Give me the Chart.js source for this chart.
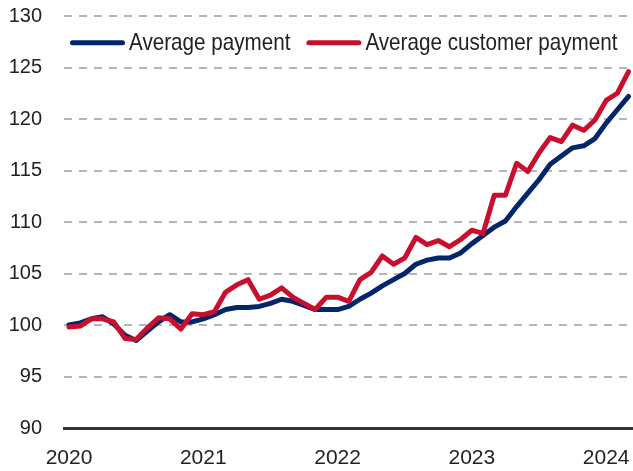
<!DOCTYPE html>
<html>
<head>
<meta charset="utf-8">
<script src="https://cdn.jsdelivr.net/npm/chart.js@4/dist/chart.umd.min.js"></script>
<style>
  html, body { margin: 0; padding: 0; background: #ffffff; }
  #wrap { width: 633px; height: 471px; position: relative; }
</style>
</head>
<body>
<div id="wrap"><canvas id="c" width="633" height="471"></canvas></div>
<script>
// Monthly, Jan 2020 – Mar 2024 (index 0 = Jan 2020)
const yearLabels = ["2020", "2021", "2022", "2023", "2024"];
const yearTickIndex = [0, 12, 24, 36, 48];
const yTicks = [90, 95, 100, 105, 110, 115, 120, 125, 130];

const seriesNames = ["Average payment", "Average customer payment"];

const averagePayment = [
  100.0, 100.2, 100.6, 100.8, 100.1, 99.0, 98.5, 99.4, 100.3, 101.0, 100.3, 100.3,
  100.6, 101.0, 101.5, 101.7, 101.7, 101.8, 102.1, 102.5, 102.3, 101.9, 101.5, 101.5,
  101.5, 101.8, 102.5, 103.1, 103.8, 104.4, 105.0, 105.9, 106.3, 106.5, 106.5, 107.0,
  107.9, 108.7, 109.5, 110.1, 111.5, 112.8, 114.1, 115.6, 116.4, 117.2, 117.4, 118.1,
  119.6, 120.9, 122.2
];

const averageCustomerPayment = [
  99.8, 99.9, 100.6, 100.6, 100.3, 98.7, 98.6, 99.7, 100.7, 100.6, 99.6, 101.1,
  101.0, 101.3, 103.2, 103.9, 104.4, 102.5, 102.9, 103.6, 102.7, 102.1, 101.5, 102.7,
  102.7, 102.3, 104.4, 105.1, 106.7, 105.9, 106.5, 108.5, 107.8, 108.2, 107.6, 108.3,
  109.2, 108.9, 112.6, 112.6, 115.7, 114.9, 116.7, 118.2, 117.8, 119.4, 118.9, 119.9,
  121.8, 122.5, 124.6
];

const colors = { blue: "#03266b", red: "#c8102e" };

const toPoints = arr => arr.map((v, i) => ({ x: i, y: v }));

const tickFamily = "'Liberation Sans', Arial, sans-serif";

// Custom in-plot legend (condensed text drawn with a horizontal squeeze)
const inlineLegend = {
  id: "inlineLegend",
  afterDraw(chart) {
    const ctx = chart.ctx;
    const area = chart.chartArea;
    const squeeze = 0.86;
    const lineLen = 50, textGap = 6.5, itemGap = 18.5;
    const lineY = area.top + 26.7;
    const baseY = area.top + 34;
    let x = area.left + 8.5;
    ctx.save();
    ctx.font = "24px 'Liberation Sans', Arial, sans-serif";
    ctx.textBaseline = "alphabetic";
    ctx.textAlign = "left";
    chart.data.datasets.forEach((ds, i) => {
      ctx.beginPath();
      ctx.lineCap = "round";
      ctx.lineWidth = 5;
      ctx.strokeStyle = ds.borderColor;
      ctx.moveTo(x, lineY);
      ctx.lineTo(x + lineLen, lineY);
      ctx.stroke();
      x += lineLen + textGap;
      const w = ctx.measureText(ds.label).width * squeeze;
      ctx.save();
      ctx.translate(x, baseY);
      ctx.scale(squeeze, 1);
      ctx.fillStyle = "#222222";
      ctx.fillText(ds.label, 0, 0);
      ctx.restore();
      x += w + itemGap;
    });
    ctx.restore();
  }
};

new Chart(document.getElementById("c"), {
  type: "line",
  data: {
    datasets: [
      {
        label: seriesNames[0],
        data: toPoints(averagePayment),
        borderColor: colors.blue,
        backgroundColor: colors.blue,
        borderWidth: 5,
        pointRadius: 0,
        borderCapStyle: "round",
        borderJoinStyle: "round",
        tension: 0,
        order: 2
      },
      {
        label: seriesNames[1],
        data: toPoints(averageCustomerPayment),
        borderColor: colors.red,
        backgroundColor: colors.red,
        borderWidth: 5,
        pointRadius: 0,
        borderCapStyle: "round",
        borderJoinStyle: "round",
        tension: 0,
        order: 1
      }
    ]
  },
  plugins: [inlineLegend],
  options: {
    responsive: false,
    animation: false,
    devicePixelRatio: 1,
    layout: { padding: { top: 16, right: 0, left: 0, bottom: 0 } },
    plugins: {
      tooltip: { enabled: false },
      legend: { display: false }
    },
    scales: {
      x: {
        type: "linear",
        min: -0.447,
        max: 50.4,
        grid: { display: false, drawTicks: false },
        border: { display: true, color: "#333333", width: 3 },
        afterBuildTicks: s => { s.ticks = yearTickIndex.map(v => ({ value: v })); },
        afterFit: s => { s.height = 43; s.paddingLeft = 0; s.paddingRight = 0; },
        ticks: {
          autoSkip: false,
          maxRotation: 0,
          padding: 18,
          color: "#222222",
          font: { family: tickFamily, size: 21 },
          callback: v => yearLabels[yearTickIndex.indexOf(v)]
        }
      },
      y: {
        type: "linear",
        min: 90,
        max: 130,
        afterBuildTicks: s => { s.ticks = yTicks.map(v => ({ value: v })); },
        afterFit: s => { s.width = 64; s.paddingTop = 0; s.paddingBottom = 0; },
        grid: {
          drawTicks: false,
          lineWidth: 2,
          color: ctx => (ctx.tick && ctx.tick.value === 90) ? "rgba(0,0,0,0)" : "#b5b5b5"
        },
        border: { display: false, dash: [8, 7] },
        ticks: {
          padding: 22,
          color: "#222222",
          font: { family: tickFamily, size: 20 }
        }
      }
    }
  }
});
</script>
</body>
</html>
